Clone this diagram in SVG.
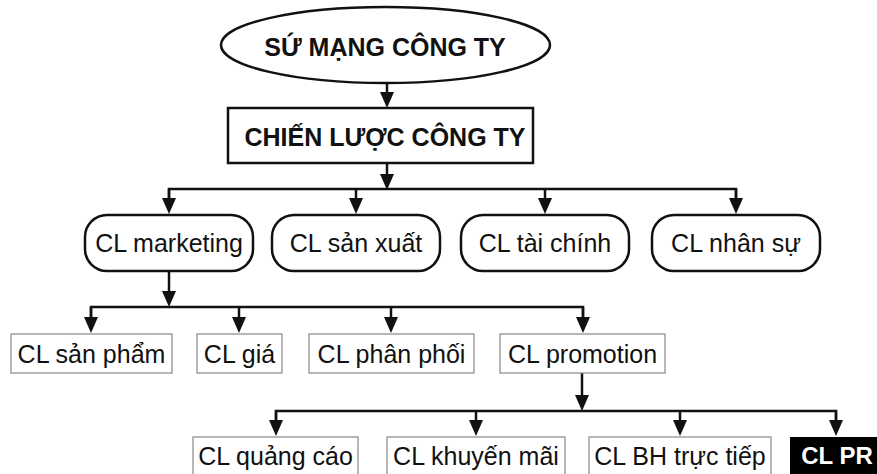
<svg xmlns="http://www.w3.org/2000/svg" width="877" height="474" viewBox="0 0 877 474">
<defs>
<style>
.t{font-family:"Liberation Sans",Arial,sans-serif;font-size:25px;fill:#111;text-anchor:middle}
.b{font-weight:bold;font-size:25px}
.w{fill:#fff;font-size:24px}
.k{fill:#fff;stroke:#111;stroke-width:2.5}
.g{fill:#fff;stroke:#888;stroke-width:1.2}
.c{fill:none;stroke:#111;stroke-width:2.5}
</style>
<marker id="ah" viewBox="0 0 16 14" refX="10" refY="7" markerWidth="16" markerHeight="14" markerUnits="userSpaceOnUse" orient="auto">
<path d="M0,0 L16,7 L0,14 z" fill="#111"/>
</marker>
</defs>
<rect width="877" height="474" fill="#fff"/>
<g id="connectors">
<path class="c" d="M387,83 V102" marker-end="url(#ah)"/>
<path class="c" d="M387,163 V184" marker-end="url(#ah)"/>
<path class="c" d="M169,208 V189 H736 V208"/>
<path class="c" d="M169,189 V208" marker-end="url(#ah)"/>
<path class="c" d="M356,189 V208" marker-end="url(#ah)"/>
<path class="c" d="M545,189 V208" marker-end="url(#ah)"/>
<path class="c" d="M736,189 V208" marker-end="url(#ah)"/>
<path class="c" d="M169,271 V301" marker-end="url(#ah)"/>
<path class="c" d="M91,327 V307 H583 V327"/>
<path class="c" d="M91,307 V327" marker-end="url(#ah)"/>
<path class="c" d="M239,307 V327" marker-end="url(#ah)"/>
<path class="c" d="M391,307 V327" marker-end="url(#ah)"/>
<path class="c" d="M583,307 V327" marker-end="url(#ah)"/>
<path class="c" d="M582,373 V405" marker-end="url(#ah)"/>
<path class="c" d="M276,430 V411 H836 V430"/>
<path class="c" d="M276,411 V430" marker-end="url(#ah)"/>
<path class="c" d="M476,411 V430" marker-end="url(#ah)"/>
<path class="c" d="M680,411 V430" marker-end="url(#ah)"/>
<path class="c" d="M836,411 V430" marker-end="url(#ah)"/>
</g>
<g id="su-mang">
<ellipse class="k" cx="385.5" cy="45" rx="164.5" ry="38" stroke-width="2"/>
<text class="t b" x="385" y="56">SỨ MẠNG CÔNG TY</text>
</g>
<g id="chien-luoc">
<rect class="k" x="228" y="108" width="305" height="55"/>
<text class="t b" x="385" y="146">CHIẾN LƯỢC CÔNG TY</text>
</g>
<g id="cl-marketing">
<rect class="k" x="85" y="215" width="168" height="56" rx="22" stroke-width="2"/>
<text class="t" x="169" y="252">CL marketing</text>
</g>
<g id="cl-san-xuat">
<rect class="k" x="272" y="215" width="168" height="56" rx="22" stroke-width="2"/>
<text class="t" x="356" y="252">CL sản xuất</text>
</g>
<g id="cl-tai-chinh">
<rect class="k" x="461" y="215" width="168" height="56" rx="22" stroke-width="2"/>
<text class="t" x="545" y="252">CL tài chính</text>
</g>
<g id="cl-nhan-su">
<rect class="k" x="652" y="215" width="168" height="56" rx="22" stroke-width="2"/>
<text class="t" x="736" y="252">CL nhân sự</text>
</g>
<g id="cl-san-pham">
<rect class="g" x="11" y="334" width="161" height="39"/>
<text class="t" x="91.5" y="363">CL sản phẩm</text>
</g>
<g id="cl-gia">
<rect class="g" x="197" y="334" width="85" height="39"/>
<text class="t" x="239.5" y="363">CL giá</text>
</g>
<g id="cl-phan-phoi">
<rect class="g" x="309" y="334" width="165" height="39"/>
<text class="t" x="391.5" y="363">CL phân phối</text>
</g>
<g id="cl-promotion">
<rect class="g" x="500" y="334" width="165" height="39"/>
<text class="t" x="582.5" y="363">CL promotion</text>
</g>
<g id="cl-quang-cao">
<rect class="g" x="193" y="437" width="165" height="45"/>
<text class="t" x="275.5" y="465">CL quảng cáo</text>
</g>
<g id="cl-khuyen-mai">
<rect class="g" x="387" y="437" width="178" height="45"/>
<text class="t" x="476" y="465">CL khuyến mãi</text>
</g>
<g id="cl-bh-truc-tiep">
<rect class="g" x="589" y="437" width="182" height="45"/>
<text class="t" x="680" y="465">CL BH trực tiếp</text>
</g>
<g id="cl-pr">
<rect x="790" y="437" width="95" height="45" fill="#000"/>
<text class="t b w" x="837" y="464">CL PR</text>
</g>
</svg>
